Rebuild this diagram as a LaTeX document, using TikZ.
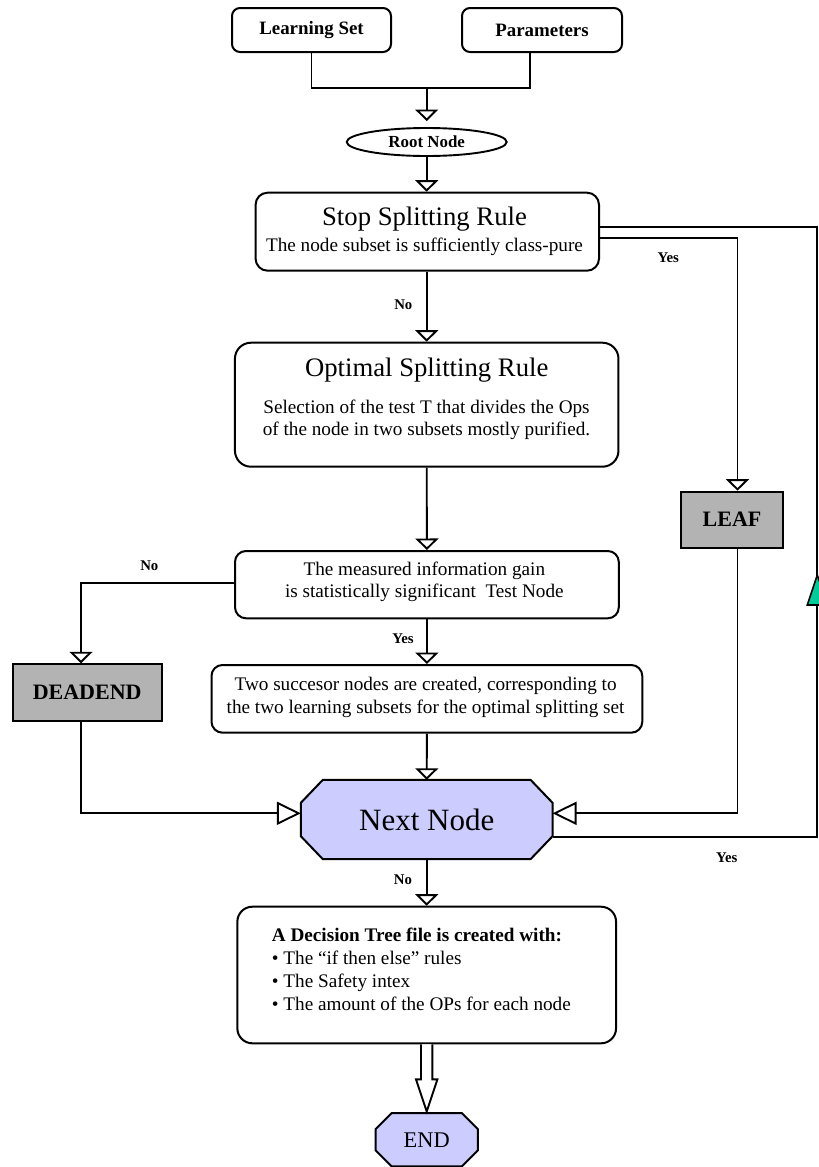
\documentclass[tikz,border=0pt]{standalone}
\usepackage{fontspec}
\setmainfont{Liberation Serif}
\usetikzlibrary{arrows.meta,calc,backgrounds,shapes.geometric}

\definecolor{boxgray}{RGB}{179,179,179}
\definecolor{lavender}{RGB}{204,204,255}
\definecolor{loopgreen}{RGB}{0,204,153}

\newcommand\setfs[1]{\fontsize{#1}{#1}\selectfont}
% octagon drawn around a named node: node, chamfer in x, chamfer in y, style
\newcommand\octagon[4]{%
  \filldraw[#4] ($(#1.north west)+(#2,0)$) -- ($(#1.north east)+(-#2,0)$)
    -- ($(#1.north east)+(0,#3)$) -- ($(#1.south east)+(0,-#3)$)
    -- ($(#1.south east)+(-#2,0)$) -- ($(#1.south west)+(#2,0)$)
    -- ($(#1.south west)+(0,-#3)$) -- ($(#1.north west)+(0,#3)$) -- cycle;}

\begin{document}
\begin{tikzpicture}[x=1pt, y=-1pt,
  rbox/.style={draw, line width=2pt, fill=white, rounded corners=#1, inner sep=0pt},
  rbox/.default=12pt,
  gbox/.style={draw, line width=2pt, fill=boxgray, inner sep=0pt, font=\bfseries\setfs{22}},
  octfill/.style={draw, line width=2pt, fill=lavender},
  headtext/.style={anchor=base, inner sep=0pt, font=\setfs{26.7}},
  bodytext/.style={anchor=base, inner sep=0pt, font=\setfs{19.2}},
  lbl/.style={anchor=base, inner sep=0pt, font=\bfseries\setfs{14.8}},
  wire/.style={line width=1.9pt},
  flowarrow/.style={wire, -{Triangle[open, length=11.5pt, width=23pt]}},
  sidearrow/.style={wire, -{Triangle[open, length=24pt, width=23pt]}}
]
\useasboundingbox (0,0) rectangle (819,1167);

% inputs and root
\node[rbox=8pt, minimum width=159pt, minimum height=44pt, font=\bfseries\setfs{18.9}] (ls) at (311.5,30) {Learning Set};
\node[rbox=8pt, minimum width=160pt, minimum height=44pt, font=\bfseries\setfs{18.9}] (par) at (542,30) {Parameters};
\node[draw, ellipse, line width=1.9pt, minimum width=160pt, minimum height=28pt, inner sep=0pt, font=\bfseries\setfs{16.9}] (root) at (426.7,142) {Root Node};

% stop rule
\node[rbox=12pt, minimum width=343.4pt, minimum height=78pt] (stop) at (427.3,231.7) {};
\node[headtext] (stopT) at (424.5,225) {Stop Splitting Rule};
\node[bodytext] (stopS) at (424.5,251.7) {The node subset is sufficiently class-pure};

% optimal splitting rule
\node[rbox=16pt, minimum width=383.5pt, minimum height=124pt] (opt) at (426.7,404.7) {};
\node[headtext] (optT) at (426.7,376.7) {Optimal Splitting Rule};
\node[bodytext] (optA) at (426.5,413.5) {Selection of the test T that divides the Ops};
\node[bodytext] (optB) at (426.5,435.5) {of the node in two subsets mostly purified.};

% test node
\node[rbox=11pt, minimum width=383.8pt, minimum height=67.3pt] (test) at (426.9,584.65) {};
\node[bodytext] (testA) at (424.3,575) {The measured information gain};
\node[bodytext] (testB) at (424.3,597.3) {is statistically significant\ \ Test Node};

% successors
\node[rbox=11pt, minimum width=430.8pt, minimum height=67.7pt] (succ) at (426.9,698.85) {};
\node[bodytext] (succA) at (425.6,690) {Two succesor nodes are created, corresponding to};
\node[bodytext] (succB) at (425.6,713) {the two learning subsets for the optimal splitting set};

% terminal boxes
\node[gbox, minimum width=149pt, minimum height=56.7pt] (dead) at (87.2,692.65) {DEADEND};
\node[gbox, minimum width=102.6pt, minimum height=56pt] (leaf) at (732,519.7) {LEAF};

% next node and end
\node[minimum width=251.3pt, minimum height=79pt, inner sep=0pt, font=\setfs{31}] (next) at (426.7,819.5) {Next Node};
\node[minimum width=102pt, minimum height=52.7pt, inner sep=0pt, font=\setfs{22.4}] (end) at (426.7,1139.7) {END};
\begin{scope}[on background layer]
  \octagon{next}{22}{23}{octfill}
  \octagon{end}{16}{16}{octfill}
\end{scope}

% output file
\node[rbox=15pt, minimum width=378.7pt, minimum height=136.6pt] (dec) at (426.7,975) {};
\node[bodytext, anchor=base west] (decA) at (271.7,941.7) {\bfseries A Decision Tree file is created with:};
\node[bodytext, anchor=base west] (decB) at (271.7,964.5) {• The “if then else” rules};
\node[bodytext, anchor=base west] (decC) at (271.7,987.3) {• The Safety intex};
\node[bodytext, anchor=base west] (decD) at (271.7,1010) {• The amount of the OPs for each node};

% connectors
\coordinate (join) at (426.7,88);
\draw[wire] (ls.south) |- (join);
\draw[wire] ($(par.south)+(-12,0)$) |- (join);
\draw[flowarrow, shorten >=6pt] (join) -- (root.north);
\draw[flowarrow] (root.south) -- (root.south |- stop.north);
\draw[flowarrow] (opt.north |- stop.south) -- (opt.north);
\draw[flowarrow] (opt.south) -- (test.north);
\draw[flowarrow] (test.south) -- (succ.north);
\draw[flowarrow] (succ.south) -- (next.north);
\draw[flowarrow] (next.south) -- (dec.north);

\draw[flowarrow] ($(stop.east)+(0,6.6)$) -| ($(leaf.north)+(5.5,0)$);
\draw[sidearrow] ($(leaf.south)+(5.5,0)$) |- ($(next.east)+(0,-6.2)$);

\draw[flowarrow] ($(test.west)+(0,-1.4)$) -| ($(dead.north)+(-6.2,0)$);
\draw[sidearrow] ($(dead.south)+(-6.2,0)$) |- ($(next.west)+(0,-6.2)$);

% loop back to the stop rule
\coordinate (loopturn) at (817.3,226.7);
\draw[wire] ($(next.east)+(0,17.2)$) -| (loopturn) -- ($(stop.east)+(0,-5)$);
\filldraw[fill=loopgreen, line width=1.6pt] ($(loopturn)+(0,348.3)$) -- ++(10,30) -- ++(-20,0) -- cycle;

% hollow arrow to the end
\draw[wire, fill=white] ($(dec.south)+(-5.7,0)$) -- ($(dec.south)+(-5.7,35)$)
  -- ($(dec.south)+(-10.7,35)$) -- ($(end.north)+(0,-1.6)$)
  -- ($(dec.south)+(10.7,35)$) -- ($(dec.south)+(5.7,35)$) -- ($(dec.south)+(5.7,0)$);

% branch labels
\node[lbl] (noA) at (403.3,309.3) {No};
\node[lbl] (yesA) at (668.3,262.7) {Yes};
\node[lbl] (noB) at (149.3,570.7) {No};
\node[lbl] (yesB) at (403,643) {Yes};
\node[lbl] (noC) at (403,884) {No};
\node[lbl] (yesC) at (726.7,862.5) {Yes};
\end{tikzpicture}
\end{document}
